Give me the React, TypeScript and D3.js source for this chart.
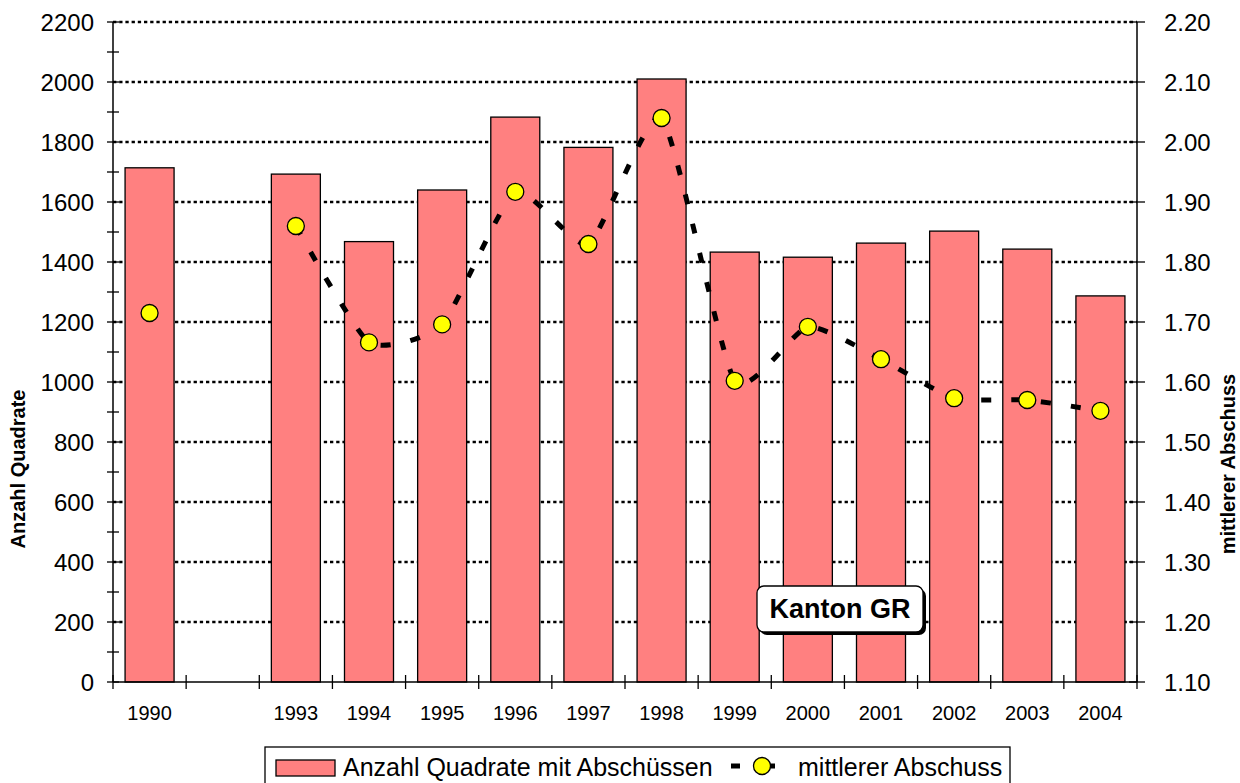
import React, { useRef, useEffect } from 'react';
import * as d3 from 'd3';

// categories (1991/92 is an empty slot in the original)
const years = ['1990', '', '1993', '1994', '1995', '1996', '1997', '1998', '1999', '2000', '2001', '2002', '2003', '2004'];
// Anzahl Quadrate mit Abschüssen
const quadrate: (number | null)[] = [1714, null, 1693, 1468, 1640, 1883, 1782, 2010, 1433, 1416, 1463, 1503, 1443, 1287];
// mittlerer Abschuss
const abschuss: (number | null)[] = [1.715, null, 1.86, 1.666, 1.696, 1.917, 1.83, 2.04, 1.602, 1.692, 1.638, 1.573, 1.57, 1.552];

const leftTicks = [0, 200, 400, 600, 800, 1000, 1200, 1400, 1600, 1800, 2000, 2200];
const rightTicks = [1.1, 1.2, 1.3, 1.4, 1.5, 1.6, 1.7, 1.8, 1.9, 2.0, 2.1, 2.2];

const W = 1240;
const H = 783;
const FONT = '"Liberation Sans", Arial, sans-serif';

const App = () => {
  const svgRef = useRef<SVGSVGElement>(null);

  useEffect(() => {
    const svg = d3.select(svgRef.current);
    svg.selectAll('*').remove();

    const margin = { top: 22, right: 103, bottom: 101, left: 113 };
    const x0 = margin.left;
    const x1 = W - margin.right;
    const y0 = H - margin.bottom;
    const y1 = margin.top;

    const idx = years.map((_, i) => i);
    const xScale = d3.scaleBand<number>().domain(idx).range([x0, x1]).paddingInner(0.33).paddingOuter(0.165);
    const xStep = d3.scaleLinear().domain([0, years.length]).range([x0, x1]);
    const yLeft = d3.scaleLinear().domain([0, 2200]).range([y0, y1]);
    const yRight = d3.scaleLinear().domain([1.1, 2.2]).range([y0, y1]);

    // gridlines
    svg.append('g')
      .selectAll('line')
      .data(leftTicks.filter(d => d > 0))
      .enter()
      .append('line')
      .attr('x1', x0)
      .attr('x2', x1)
      .attr('y1', d => yLeft(d))
      .attr('y2', d => yLeft(d))
      .attr('stroke', '#000')
      .attr('stroke-width', 2.3)
      .attr('stroke-dasharray', '3.3,2.9');

    // bars
    svg.append('g')
      .selectAll('rect')
      .data(idx.filter(i => quadrate[i] != null))
      .enter()
      .append('rect')
      .attr('x', i => xScale(i)!)
      .attr('width', xScale.bandwidth())
      .attr('y', i => yLeft(quadrate[i]!))
      .attr('height', i => y0 - yLeft(quadrate[i]!))
      .attr('fill', '#FF8080')
      .attr('stroke', '#000')
      .attr('stroke-width', 1.3);

    // left axis
    const la = svg.append('g');
    la.append('line').attr('x1', x0).attr('x2', x0).attr('y1', y1).attr('y2', y0)
      .attr('stroke', '#000').attr('stroke-width', 1.5);
    la.selectAll('.minor')
      .data(d3.range(0, 2201, 100))
      .enter()
      .append('line')
      .attr('x1', x0 - 6)
      .attr('x2', x0 + 6)
      .attr('y1', d => yLeft(d))
      .attr('y2', d => yLeft(d))
      .attr('stroke', '#000')
      .attr('stroke-width', 1.3);
    la.selectAll('text')
      .data(leftTicks)
      .enter()
      .append('text')
      .attr('x', x0 - 19)
      .attr('y', d => yLeft(d))
      .attr('dy', '0.36em')
      .attr('text-anchor', 'end')
      .attr('font-size', 24)
      .text(d => d);

    // right axis
    const ra = svg.append('g');
    ra.append('line').attr('x1', x1).attr('x2', x1).attr('y1', y1).attr('y2', y0)
      .attr('stroke', '#000').attr('stroke-width', 1.5);
    ra.selectAll('.tick')
      .data(rightTicks)
      .enter()
      .append('line')
      .attr('x1', x1 - 8)
      .attr('x2', x1 + 8)
      .attr('y1', d => yRight(d))
      .attr('y2', d => yRight(d))
      .attr('stroke', '#000')
      .attr('stroke-width', 1.3);
    ra.selectAll('text')
      .data(rightTicks)
      .enter()
      .append('text')
      .attr('x', x1 + 27)
      .attr('y', d => yRight(d))
      .attr('dy', '0.36em')
      .attr('font-size', 24)
      .text(d => d3.format('.2f')(d));

    // bottom axis
    const ba = svg.append('g');
    ba.append('line').attr('x1', x0).attr('x2', x1).attr('y1', y0).attr('y2', y0)
      .attr('stroke', '#000').attr('stroke-width', 1.5);
    ba.selectAll('.tick')
      .data(d3.range(0, years.length + 1))
      .enter()
      .append('line')
      .attr('x1', d => xStep(d))
      .attr('x2', d => xStep(d))
      .attr('y1', y0 - 7)
      .attr('y2', y0 + 7)
      .attr('stroke', '#000')
      .attr('stroke-width', 1.3);
    ba.selectAll('text')
      .data(idx)
      .enter()
      .append('text')
      .attr('x', i => xScale(i)! + xScale.bandwidth() / 2)
      .attr('y', y0 + 38)
      .attr('text-anchor', 'middle')
      .attr('font-size', 20)
      .text(i => years[i]);

    // axis titles
    svg.append('text')
      .attr('transform', `translate(25, 469) rotate(-90)`)
      .attr('text-anchor', 'middle')
      .attr('font-size', 20)
      .attr('font-weight', 'bold')
      .text('Anzahl Quadrate');
    svg.append('text')
      .attr('transform', `translate(1235, 464) rotate(-90)`)
      .attr('text-anchor', 'middle')
      .attr('font-size', 20)
      .attr('font-weight', 'bold')
      .text('mittlerer Abschuss');

    // line
    const cx = (i: number) => xScale(i)! + xScale.bandwidth() / 2;
    const line = d3.line<number>()
      .defined(i => abschuss[i] != null)
      .x(i => cx(i))
      .y(i => yRight(abschuss[i]!))
      .curve(d3.curveCardinal.tension(0.45));
    svg.append('path')
      .attr('d', line(idx))
      .attr('fill', 'none')
      .attr('stroke', '#000')
      .attr('stroke-width', 5)
      .attr('stroke-dasharray', '10,20');

    svg.append('g')
      .selectAll('circle')
      .data(idx.filter(i => abschuss[i] != null))
      .enter()
      .append('circle')
      .attr('cx', i => cx(i))
      .attr('cy', i => yRight(abschuss[i]!))
      .attr('r', 8.5)
      .attr('fill', '#FFFF00')
      .attr('stroke', '#000')
      .attr('stroke-width', 1.3);

    // Kanton GR label
    const lbl = svg.append('g');
    lbl.append('rect').attr('x', 760).attr('y', 589).attr('width', 166).attr('height', 46)
      .attr('rx', 7).attr('fill', '#000');
    lbl.append('rect').attr('x', 757).attr('y', 586).attr('width', 166).attr('height', 46)
      .attr('rx', 7).attr('fill', '#fff').attr('stroke', '#000').attr('stroke-width', 1.3);
    lbl.append('text').attr('x', 840).attr('y', 618).attr('text-anchor', 'middle')
      .attr('font-size', 27).attr('font-weight', 'bold').text('Kanton GR');

    // legend
    const lg = svg.append('g');
    lg.append('rect').attr('x', 265).attr('y', 747).attr('width', 745).attr('height', 45)
      .attr('fill', '#fff').attr('stroke', '#000').attr('stroke-width', 1.3);
    lg.append('rect').attr('x', 276).attr('y', 760).attr('width', 59).attr('height', 16)
      .attr('fill', '#FF8080').attr('stroke', '#000').attr('stroke-width', 1.3);
    lg.append('text').attr('x', 343).attr('y', 776).attr('font-size', 25)
      .text('Anzahl Quadrate mit Abschüssen');
    lg.append('line').attr('x1', 731).attr('x2', 775).attr('y1', 766).attr('y2', 766)
      .attr('stroke', '#000').attr('stroke-width', 5).attr('stroke-dasharray', '9,26');
    lg.append('circle').attr('cx', 762).attr('cy', 766).attr('r', 8.5)
      .attr('fill', '#FFFF00').attr('stroke', '#000').attr('stroke-width', 1.3);
    lg.append('text').attr('x', 798).attr('y', 776).attr('font-size', 25)
      .text('mittlerer Abschuss');
  }, []);

  return (
    <svg
      ref={svgRef}
      width={W}
      height={H}
      style={{ position: 'absolute', left: 0, top: 0, background: '#fff', fontFamily: FONT }}
    />
  );
};

export default App;
